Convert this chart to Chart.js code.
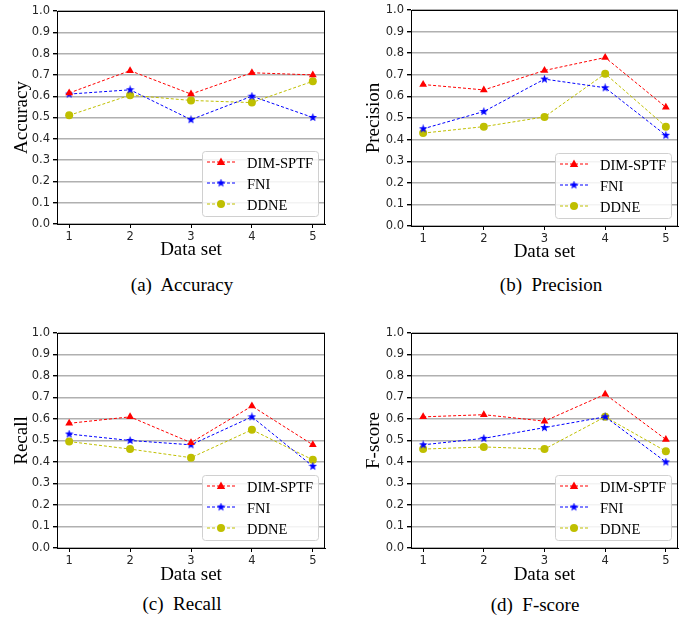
<!DOCTYPE html>
<html lang="en">
<head>
<meta charset="UTF-8">
<title>DIM-SPTF vs FNI vs DDNE</title>
<style>
    body {
        margin: 0;
        background: #fff;
        width: 689px;
        height: 619px;
        position: relative;
        overflow: hidden;
    }
    .panel {
        position: absolute;
    }
    .caption {
        position: absolute;
        font-family: "Liberation Serif", "Times New Roman", serif;
        font-size: 19px;
        color: #000;
        transform: translate(-50%, -50%);
        white-space: nowrap;
    }
    .legend-label {
        position: absolute;
        font-family: "Liberation Serif", "Times New Roman", serif;
        font-size: 14.5px;
        line-height: 1;
        color: #000;
        transform: translateY(-50%);
        white-space: nowrap;
    }
</style>
</head>
<body>

<canvas class="panel" id="chartA" width="345" height="265" style="left:0;top:0"></canvas>
<canvas class="panel" id="chartB" width="344" height="265" style="left:345px;top:0"></canvas>
<canvas class="panel" id="chartC" width="345" height="279" style="left:0;top:310px"></canvas>
<canvas class="panel" id="chartD" width="344" height="279" style="left:345px;top:310px"></canvas>

<div class="caption" style="left:182px;top:285px">(a)&nbsp; Accuracy</div>
<div class="caption" style="left:551px;top:285px">(b)&nbsp; Precision</div>
<div class="caption" style="left:182px;top:604px">(c)&nbsp; Recall</div>
<div class="caption" style="left:535px;top:605px">(d)&nbsp; F-score</div>

<script src="https://cdn.jsdelivr.net/npm/chart.js"></script>
<script>
    // data sets on the x axis
    const dataSets = [1, 2, 3, 4, 5];
    const methods = ['DIM-SPTF', 'FNI', 'DDNE'];

    const accuracyDIM  = [0.615, 0.72, 0.61, 0.71, 0.70];
    const accuracyFNI  = [0.61, 0.63, 0.49, 0.60, 0.50];
    const accuracyDDNE = [0.51, 0.605, 0.58, 0.57, 0.67];

    const precisionDIM  = [0.655, 0.63, 0.72, 0.78, 0.55];
    const precisionFNI  = [0.45, 0.53, 0.68, 0.64, 0.42];
    const precisionDDNE = [0.43, 0.46, 0.505, 0.705, 0.46];

    const recallDIM  = [0.58, 0.61, 0.49, 0.66, 0.48];
    const recallFNI  = [0.53, 0.50, 0.48, 0.61, 0.38];
    const recallDDNE = [0.495, 0.46, 0.42, 0.55, 0.41];

    const fscoreDIM  = [0.61, 0.62, 0.59, 0.715, 0.505];
    const fscoreFNI  = [0.48, 0.51, 0.56, 0.61, 0.40];
    const fscoreDDNE = [0.46, 0.47, 0.46, 0.61, 0.45];

    const yTicks = [0, 0.1, 0.2, 0.3, 0.4, 0.5, 0.6, 0.7, 0.8, 0.9, 1.0];

    const RED = '#ff0000';
    const BLUE = '#0000ff';
    const OLIVE = '#bfbf00';

    // legend box size and offsets from the plot corner
    const LEG_W = 116, LEG_H = 65;

    // filled star marker, like matplotlib '*'
    function makeStar(color, size) {
        const c = document.createElement('canvas');
        c.width = size;
        c.height = size;
        const ctx = c.getContext('2d');
        const cx = size / 2, cy = size / 2;
        const outer = size / 2, inner = outer * 0.42;
        ctx.beginPath();
        for (let i = 0; i < 10; i++) {
            const r = i % 2 === 0 ? outer : inner;
            const a = -Math.PI / 2 + i * Math.PI / 5;
            const px = cx + r * Math.cos(a), py = cy + r * Math.sin(a);
            if (i === 0) ctx.moveTo(px, py); else ctx.lineTo(px, py);
        }
        ctx.closePath();
        ctx.fillStyle = color;
        ctx.fill();
        return c;
    }
    const starImg = makeStar(BLUE, 9);

    function drawMarker(ctx, kind, x, y) {
        ctx.save();
        if (kind === 'triangle') {
            ctx.fillStyle = RED;
            ctx.beginPath();
            ctx.moveTo(x, y - 4.5);
            ctx.lineTo(x + 4.2, y + 3);
            ctx.lineTo(x - 4.2, y + 3);
            ctx.closePath();
            ctx.fill();
        } else if (kind === 'star') {
            ctx.drawImage(starImg, x - 4.5, y - 4.5);
        } else {
            ctx.fillStyle = OLIVE;
            ctx.beginPath();
            ctx.arc(x, y, 4, 0, Math.PI * 2);
            ctx.fill();
        }
        ctx.restore();
    }

    function legendOrigin(a) {
        return { x: a.right - 7 - LEG_W, y: a.bottom - 8 - LEG_H };
    }

    // legend box (lines + markers) in the lower right corner, plus black frame
    const framePlugin = {
        id: 'frameLegend',
        afterDraw(chart) {
            const ctx = chart.ctx;
            const a = chart.chartArea;
            ctx.save();
            ctx.strokeStyle = '#000';
            ctx.lineWidth = 1;
            ctx.strokeRect(Math.round(a.left) + 0.5, Math.round(a.top) + 0.5,
                Math.round(a.right - a.left) - 1, Math.round(a.bottom - a.top));

            const o = legendOrigin(a);
            ctx.fillStyle = 'rgba(255,255,255,0.85)';
            ctx.strokeStyle = '#d0d0d0';
            ctx.beginPath();
            ctx.roundRect(o.x + 0.5, o.y + 0.5, LEG_W, LEG_H, 3);
            ctx.fill();
            ctx.stroke();

            const kinds = ['triangle', 'star', 'circle'];
            const colors = [RED, BLUE, OLIVE];
            for (let i = 0; i < methods.length; i++) {
                const ry = o.y + 11 + i * 21;
                ctx.strokeStyle = colors[i];
                ctx.lineWidth = 1;
                ctx.setLineDash([3, 2]);
                ctx.beginPath();
                ctx.moveTo(o.x + 5, ry);
                ctx.lineTo(o.x + 34, ry);
                ctx.stroke();
                ctx.setLineDash([]);
                drawMarker(ctx, kinds[i], o.x + 19, ry);
            }
            ctx.restore();
        }
    };

    // legend labels as html text on top of the canvas
    function addLegendLabels(chart, canvasLeft, canvasTop) {
        const o = legendOrigin(chart.chartArea);
        methods.forEach((name, i) => {
            const d = document.createElement('div');
            d.className = 'legend-label';
            d.textContent = name;
            d.style.left = (canvasLeft + o.x + 45) + 'px';
            d.style.top = (canvasTop + o.y + 12 + i * 21) + 'px';
            document.body.appendChild(d);
        });
    }

    function series(values) {
        return dataSets.map((x, i) => ({ x: x, y: values[i] }));
    }

    function makeChart(id, yTitle, dim, fni, ddne, box) {
        const ctx = document.getElementById(id).getContext('2d');
        return new Chart(ctx, {
            type: 'line',
            data: {
                datasets: [
                    {
                        label: methods[0], data: series(dim),
                        borderColor: RED, backgroundColor: RED,
                        borderWidth: 1, borderDash: [3, 2],
                        pointStyle: 'triangle', pointRadius: 4.5, pointBorderWidth: 0
                    },
                    {
                        label: methods[1], data: series(fni),
                        borderColor: BLUE, backgroundColor: BLUE,
                        borderWidth: 1, borderDash: [3, 2],
                        pointStyle: starImg, pointRadius: 4.5
                    },
                    {
                        label: methods[2], data: series(ddne),
                        borderColor: OLIVE, backgroundColor: OLIVE,
                        borderWidth: 1, borderDash: [3, 2],
                        pointStyle: 'circle', pointRadius: 4, pointBorderWidth: 0
                    }
                ]
            },
            options: {
                responsive: false,
                animation: false,
                layout: { padding: { left: 0, top: box.top, right: box.w - box.right, bottom: 0 } },
                plugins: { legend: { display: false }, tooltip: { enabled: false } },
                scales: {
                    x: {
                        type: 'linear',
                        min: 0.8, max: 5.2,
                        afterBuildTicks: s => { s.ticks = dataSets.map(v => ({ value: v })); },
                        afterFit: s => { s.height = box.h - box.bottom; },
                        ticks: {
                            font: { family: 'DejaVu Sans', size: 11.5 },
                            color: '#262626', padding: 2, maxRotation: 0
                        },
                        grid: { drawOnChartArea: false, tickLength: 4, tickColor: '#000' },
                        border: { color: '#000' },
                        title: {
                            display: true, text: 'Data set', color: '#000',
                            font: { family: 'Liberation Serif', size: 19 },
                            padding: { top: 0, bottom: box.xTitle }
                        }
                    },
                    y: {
                        min: 0, max: 1,
                        afterBuildTicks: s => { s.ticks = yTicks.map(v => ({ value: v })); },
                        afterFit: s => { s.width = box.left; },
                        ticks: {
                            font: { family: 'DejaVu Sans', size: 11.5 },
                            color: '#262626', padding: 3,
                            callback: v => v.toFixed(1)
                        },
                        grid: { color: '#b0b0b0', lineWidth: 1.4, tickLength: 4, tickColor: '#000' },
                        border: { color: '#000' },
                        title: {
                            display: true, text: yTitle, color: '#000',
                            font: { family: 'Liberation Serif', size: 19 },
                            padding: { top: box.yTitle, bottom: 0 }
                        }
                    }
                }
            },
            plugins: [framePlugin]
        });
    }

    function drawAll() {
        const a = makeChart('chartA', 'Accuracy', accuracyDIM, accuracyFNI, accuracyDDNE,
            { w: 345, h: 265, left: 57, right: 325, top: 11, bottom: 224, yTitle: 11, xTitle: 4 });
        const b = makeChart('chartB', 'Precision', precisionDIM, precisionFNI, precisionDDNE,
            { w: 344, h: 265, left: 66, right: 333, top: 10, bottom: 226, yTitle: 18, xTitle: 2 });
        const c = makeChart('chartC', 'Recall', recallDIM, recallFNI, recallDDNE,
            { w: 345, h: 279, left: 57, right: 325, top: 23, bottom: 238, yTitle: 11, xTitle: 3 });
        const d = makeChart('chartD', 'F-score', fscoreDIM, fscoreFNI, fscoreDDNE,
            { w: 344, h: 279, left: 66, right: 333, top: 23, bottom: 238, yTitle: 18, xTitle: 3 });
        addLegendLabels(a, 0, 0);
        addLegendLabels(b, 345, 0);
        addLegendLabels(c, 0, 310);
        addLegendLabels(d, 345, 310);
    }

    window.onload = function() {
        Promise.all([
            document.fonts.load('15px "Liberation Serif"'),
            document.fonts.load('12px "DejaVu Sans"')
        ]).then(drawAll, drawAll);
    };
</script>

</body>
</html>
